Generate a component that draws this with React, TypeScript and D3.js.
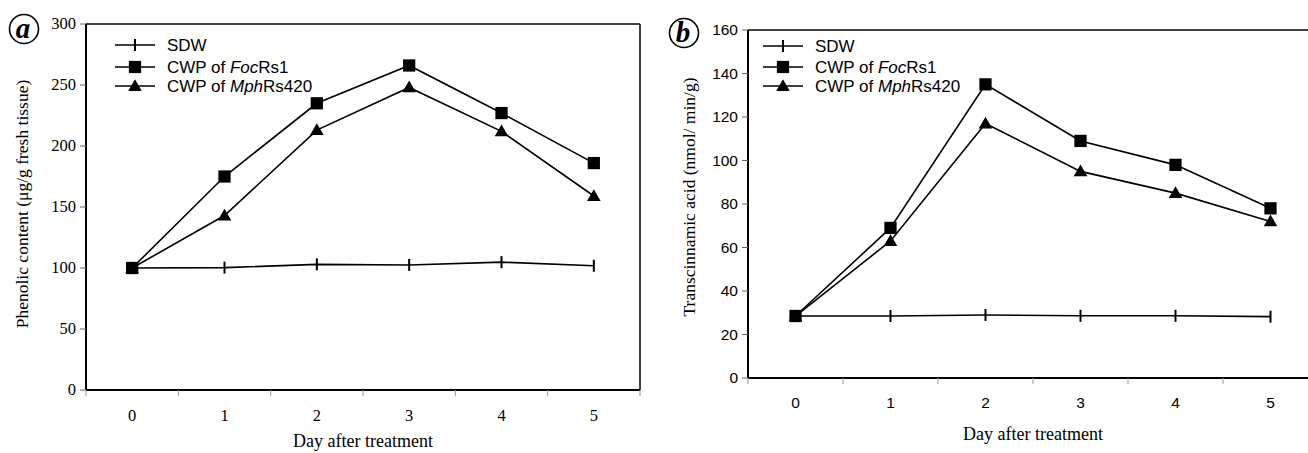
import React from "react";
import * as d3 from "d3";

const days = ["0", "1", "2", "3", "4", "5"];

// Panel a: Phenolic content (µg/g fresh tissue)
const aSDW = [100, 100.3, 103, 102.5, 104.8, 101.8];
const aFoc = [100, 175, 235, 266, 227, 186];
const aMph = [100, 143, 213, 248, 212, 159];
const aTicks = [0, 50, 100, 150, 200, 250, 300];

// Panel b: Transcinnamic acid (nmol/ min/g)
const bSDW = [28.5, 28.5, 29, 28.6, 28.6, 28.2];
const bFoc = [28.5, 69, 135, 109, 98, 78];
const bMph = [28.5, 63, 117, 95, 85, 72];
const bTicks = [0, 20, 40, 60, 80, 100, 120, 140, 160];

const legendNames = [
  { pre: "SDW", it: "", post: "" },
  { pre: "CWP of ", it: "Foc", post: "Rs1" },
  { pre: "CWP of ", it: "Mph", post: "Rs420" },
];

type PanelProps = {
  letter: string;
  x0: number;
  x1: number;
  yTop: number;
  yBot: number;
  yMax: number;
  ticks: number[];
  sdw: number[];
  foc: number[];
  mph: number[];
  tickFont: string;
  yTitle: string;
  yTitleX: number;
  yTitleY: number;
  xTickY: number;
  xTitleY: number;
  legX: number;
  legY: number[];
  circ: [number, number];
  boxRight: number;
};

const serif = "'Liberation Serif', 'Times New Roman', serif";
const sans = "'Liberation Sans', Arial, sans-serif";

function Marker({ kind, x, y }: { kind: number; x: number; y: number }) {
  if (kind === 0) {
    return <line x1={x} x2={x} y1={y - 6} y2={y + 6} stroke="#000" strokeWidth={2} />;
  }
  if (kind === 1) {
    const p = d3.symbol(d3.symbolSquare, 150)();
    return <path d={p || ""} transform={`translate(${x},${y})`} fill="#000" />;
  }
  const p = d3.symbol(d3.symbolTriangle, 80)();
  return <path d={p || ""} transform={`translate(${x},${y + 1})`} fill="#000" />;
}

function Panel(p: PanelProps) {
  const xs = d3.scaleBand<string>().domain(days).range([p.x0, p.x1]);
  const ys = d3.scaleLinear().domain([0, p.yMax]).range([p.yBot, p.yTop]);
  const cx = (d: string) => (xs(d) as number) + xs.bandwidth() / 2;
  const line = d3
    .line<number>()
    .x((_, i) => cx(days[i]))
    .y((v) => ys(v));
  const series = [p.sdw, p.foc, p.mph];
  const boundaries = days.map((_, i) => p.x0 + i * xs.bandwidth()).concat([p.x1]);
  const tfs = p.tickFont === serif ? 16.5 : 15.5;
  return (
    <g>
      {/* circled letter */}
      <circle cx={p.circ[0]} cy={p.circ[1]} r={14.5} fill="none" stroke="#000" strokeWidth={1.6} />
      <text
        x={p.circ[0] - 1}
        y={p.circ[1] + 9}
        textAnchor="middle"
        fontFamily={serif}
        fontStyle="italic"
        fontWeight="bold"
        fontSize={29}
      >
        {p.letter}
      </text>
      {/* frame */}
      <line x1={p.x0} x2={p.boxRight} y1={p.yTop} y2={p.yTop} stroke="#000" strokeWidth={1.5} />
      <line x1={p.boxRight} x2={p.boxRight} y1={p.yTop} y2={p.yBot} stroke="#000" strokeWidth={1.5} />
      <line x1={p.x0} x2={p.x0} y1={p.yTop} y2={p.yBot} stroke="#000" strokeWidth={2} />
      <line x1={p.x0} x2={p.boxRight} y1={p.yBot} y2={p.yBot} stroke="#000" strokeWidth={2} />
      {/* y ticks */}
      {p.ticks.map((t) => (
        <g key={t}>
          <line x1={p.x0 - 6} x2={p.x0} y1={ys(t)} y2={ys(t)} stroke="#666" strokeWidth={1} />
          <text x={p.x0 - 10} y={ys(t) + 5} textAnchor="end" fontFamily={p.tickFont} fontSize={tfs}>
            {t}
          </text>
        </g>
      ))}
      {/* x ticks */}
      {boundaries.map((b, i) => (
        <line key={i} x1={b} x2={b} y1={p.yBot} y2={p.yBot + 6} stroke="#999" strokeWidth={1} />
      ))}
      {days.map((d) => (
        <text key={d} x={cx(d)} y={p.xTickY} textAnchor="middle" fontFamily={p.tickFont} fontSize={tfs}>
          {d}
        </text>
      ))}
      <text x={(p.x0 + p.x1) / 2} y={p.xTitleY} textAnchor="middle" fontFamily={serif} fontSize={18}>
        Day after treatment
      </text>
      <text
        transform={`translate(${p.yTitleX},${p.yTitleY}) rotate(-90)`}
        textAnchor="middle"
        fontFamily={serif}
        fontSize={17.5}
      >
        {p.yTitle}
      </text>
      {/* lines */}
      {series.map((s, k) => (
        <path key={k} d={line(s) || ""} fill="none" stroke="#000" strokeWidth={1.6} />
      ))}
      {series.map((s, k) =>
        s.map((v, i) => <Marker key={`${k}-${i}`} kind={k} x={cx(days[i])} y={ys(v)} />)
      )}
      {/* legend */}
      {legendNames.map((n, k) => (
        <g key={k}>
          <line x1={p.legX} x2={p.legX + 40} y1={p.legY[k]} y2={p.legY[k]} stroke="#000" strokeWidth={1.6} />
          <Marker kind={k} x={p.legX + 20} y={p.legY[k]} />
          <text x={p.legX + 52} y={p.legY[k] + 6} fontFamily={sans} fontSize={17}>
            {n.pre}
            {n.it && <tspan fontStyle="italic">{n.it}</tspan>}
            {n.post}
          </text>
        </g>
      ))}
    </g>
  );
}

export default function App() {
  return (
    <svg width={1308} height={453} style={{ position: "absolute", left: 0, top: 0, background: "#fff" }}>
      <rect width={1308} height={453} fill="#fff" />
      <Panel
        letter="a"
        x0={86}
        x1={640}
        boxRight={640}
        yTop={24}
        yBot={390}
        yMax={300}
        ticks={aTicks}
        sdw={aSDW}
        foc={aFoc}
        mph={aMph}
        tickFont={serif}
        yTitle="Phenolic content  (μg/g fresh tissue)"
        yTitleX={28}
        yTitleY={204}
        xTickY={421}
        xTitleY={447}
        legX={115}
        legY={[45, 67, 86]}
        circ={[24, 29]}
      />
      <Panel
        letter="b"
        x0={748}
        x1={1318}
        boxRight={1318}
        yTop={30}
        yBot={378}
        yMax={160}
        ticks={bTicks}
        sdw={bSDW}
        foc={bFoc}
        mph={bMph}
        tickFont={sans}
        yTitle="Transcinnamic acid (nmol/ min/g)"
        yTitleX={695}
        yTitleY={197}
        xTickY={408}
        xTitleY={440}
        legX={763}
        legY={[46, 67, 86]}
        circ={[684, 33]}
      />
    </svg>
  );
}
